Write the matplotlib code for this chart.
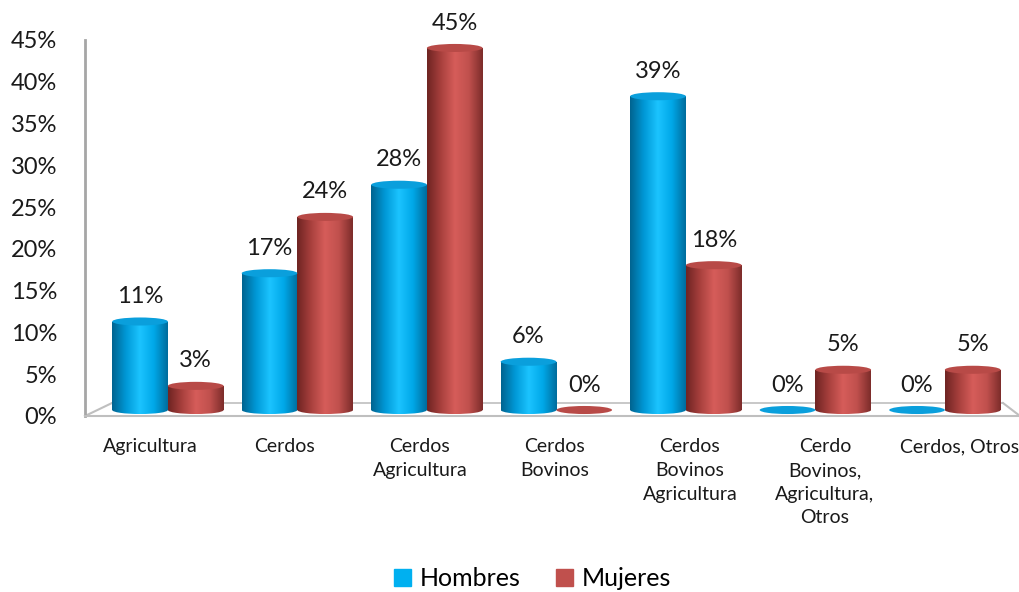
import numpy as np
import matplotlib
matplotlib.use("Agg")
import matplotlib.pyplot as plt
from matplotlib.patches import Ellipse, Rectangle
from matplotlib.colors import LinearSegmentedColormap
from matplotlib.lines import Line2D

categories = ["Agricultura", "Cerdos", "Cerdos\nAgricultura", "Cerdos\nBovinos",
              "Cerdos\nBovinos\nAgricultura", "Cerdo\nBovinos,\nAgricultura,\nOtros",
              "Cerdos, Otros"]
hombres = [11, 17, 28, 6, 39, 0, 0]
mujeres = [3, 24, 45, 0, 18, 5, 5]
yticks = [0, 5, 10, 15, 20, 25, 30, 35, 40, 45]
series_names = ["Hombres", "Mujeres"]

plt.rcParams['font.family'] = ['Lato', 'DejaVu Sans']

fig = plt.figure(figsize=(10.2, 5.92), dpi=100)
rect_ax = [85 / 1020, 176 / 592, 935 / 1020, 376 / 592]
ax = fig.add_axes(rect_ax)   # value axis + category labels on the front floor edge
bx = fig.add_axes(rect_ax)   # 3D-projected bars on the back floor
bx.set_zorder(ax.get_zorder() + 1)
bx.patch.set_visible(False)
bx.axis("off")

blue_cmap = LinearSegmentedColormap.from_list(
    "b", ["#00638f", "#0098d6", "#1cc4ff", "#00a8e8", "#006c9c"])
red_cmap = LinearSegmentedColormap.from_list(
    "r", ["#6e2422", "#a8403d", "#d65d5a", "#c0504d", "#7c2c2a"])
blue_top = "#0a9fdc"
red_top = "#b84a47"

x = np.arange(len(categories))
w = 0.43
grad = np.linspace(0, 1, 256).reshape(1, -1)

def cylinder(xc, h, cmap, topcol):
    x0, x1 = xc - w / 2, xc + w / 2
    eh = 1.0
    if h > 0:
        rect = Rectangle((x0, 0), w, h, facecolor="none", edgecolor="none")
        bx.add_patch(rect)
        im = bx.imshow(grad, cmap=cmap, extent=(x0, x1, 0, h), aspect="auto",
                       zorder=2, interpolation="bicubic")
        im.set_clip_path(rect)
        bot = Ellipse((xc, 0), w, eh, facecolor="none", edgecolor="none")
        bx.add_patch(bot)
        im2 = bx.imshow(grad, cmap=cmap, extent=(x0, x1, -eh / 2, 0.05), aspect="auto",
                        zorder=2, interpolation="bicubic")
        im2.set_clip_path(bot)
    top = Ellipse((xc, h), w, eh, facecolor=topcol, edgecolor="none", zorder=3)
    bx.add_patch(top)

for i in range(len(categories)):
    cylinder(x[i] - w / 2, hombres[i], blue_cmap, blue_top)
    cylinder(x[i] + w / 2, mujeres[i], red_cmap, red_top)
    bx.text(x[i] - w / 2, hombres[i] + 3.1, f"{hombres[i]}%", ha="center",
            va="center", fontsize=17, color="#1a1a1a")
    bx.text(x[i] + w / 2, mujeres[i] + 3.1, f"{mujeres[i]}%", ha="center",
            va="center", fontsize=17, color="#1a1a1a")

bx.set_xlim(-0.64, -0.64 + 935 / 129.5)
bx.set_ylim(-0.746, 45.99)
ax.set_xlim(-65 / 135, -65 / 135 + 935 / 135)
ax.set_ylim(0, 45)
ax.set_yticks(yticks)
ax.set_yticklabels([f"{v}%" for v in yticks], fontsize=17, color="#1a1a1a")
ax.set_xticks(x)
ax.set_xticklabels(categories, fontsize=14, color="#1a1a1a", va="top", linespacing=1.48)
ax.tick_params(axis="both", length=0)
ax.tick_params(axis="x", pad=16)
ax.tick_params(axis="y", pad=20)
for s in ["top", "right"]:
    ax.spines[s].set_visible(False)
ax.spines["left"].set_color("#a6a6a6")
ax.spines["bottom"].set_color("#bfbfbf")
ax.spines["left"].set_linewidth(2)
ax.spines["bottom"].set_linewidth(1.5)
ax.patch.set_visible(False)

# 3D floor perspective lines
trans = ax.transAxes
fb = 13 / 376
ax.add_line(Line2D([0, 27 / 935], [0, fb], transform=trans, color="#bfbfbf", lw=1.5, clip_on=False))
ax.add_line(Line2D([27 / 935, 918 / 935], [fb, fb], transform=trans, color="#bfbfbf", lw=1.2, clip_on=False))
ax.add_line(Line2D([918 / 935, 1.0], [fb, 0.0], transform=trans, color="#bfbfbf", lw=1.5, clip_on=False))

handles = [Rectangle((0, 0), 1, 1, color="#00b0f0"), Rectangle((0, 0), 1, 1, color="#c0504d")]
fig.legend(handles, series_names, loc="center", bbox_to_anchor=(0.522, 0.022),
           ncol=2, frameon=False, fontsize=18, handlelength=0.7, handleheight=0.7,
           handletextpad=0.35, columnspacing=1.4)

fig.savefig("out.png", dpi=100)
